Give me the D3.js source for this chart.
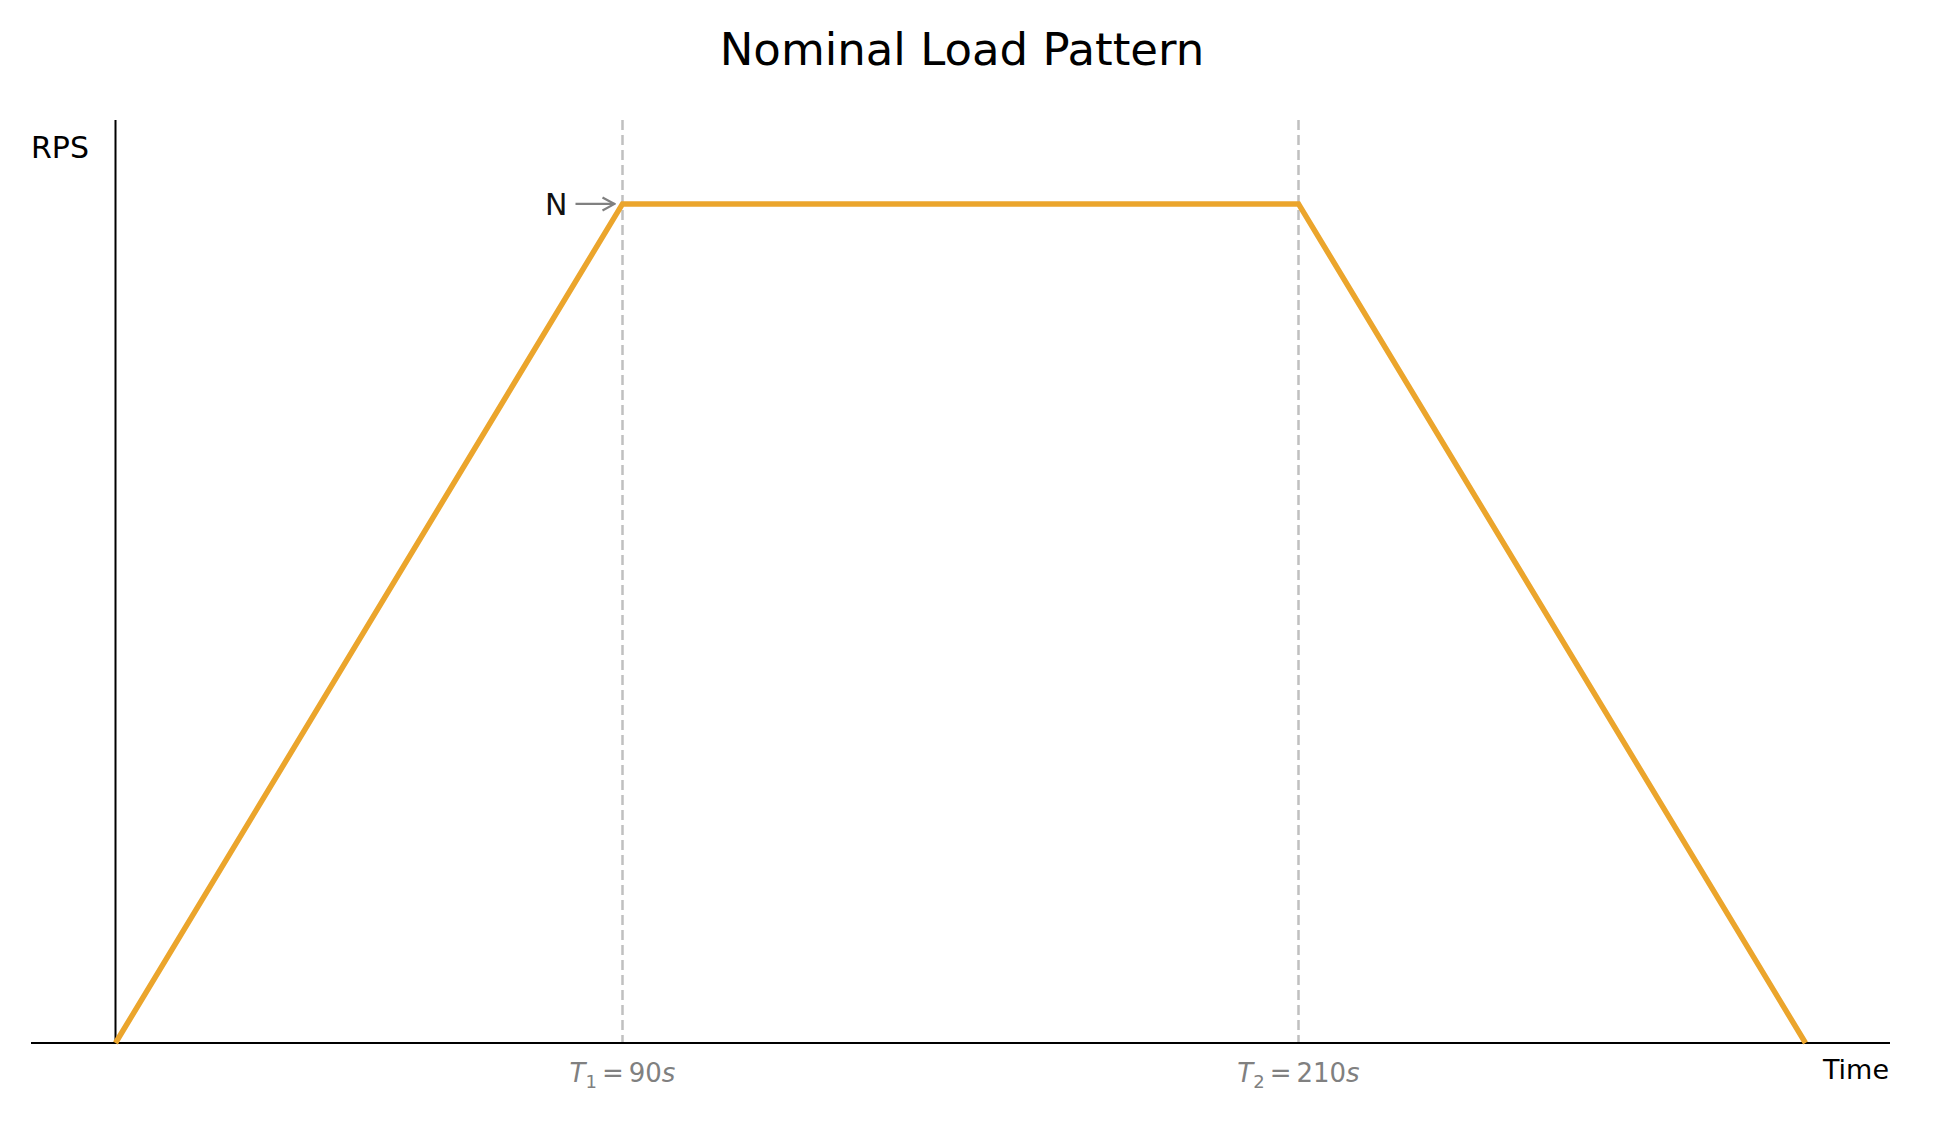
<!DOCTYPE html>
<html>
<head>
<meta charset="utf-8">
<script src="https://cdn.jsdelivr.net/npm/d3@7"></script>
<style>
  body { margin: 0; background: #fff; }
  text { font-family: "DejaVu Sans", sans-serif; }
</style>
</head>
<body>
<div id="chart"></div>
<script>
// load pattern data (time in s, load as fraction of N)
var times = [0, 90, 210, 300];
var loads = [0, 1, 1, 0];
var markTimes = [90, 210];
var markNames = ["1", "2"];
var markLabels = ["90", "210"];

var svgWidth = 1934;
var svgHeight = 1128;

var margin = { top: 120, right: 44, bottom: 85, left: 31 };
var width = svgWidth - margin.left - margin.right;
var height = svgHeight - margin.top - margin.bottom;

var svg = d3.select("#chart")
  .append("svg")
  .attr("width", svgWidth)
  .attr("height", svgHeight);

var chartGroup = svg.append("g")
  .attr("transform", `translate(${margin.left}, ${margin.top})`);

var xScale = d3.scaleLinear()
  .domain([-15, 315])
  .range([0, width]);

var yScale = d3.scaleLinear()
  .domain([0, 1.1])
  .range([height, 0]);

// dashed markers at T1 / T2
chartGroup.selectAll(".mark")
  .data(markTimes)
  .enter()
  .append("line")
  .attr("class", "mark")
  .attr("x1", d => xScale(d))
  .attr("x2", d => xScale(d))
  .attr("y1", 0)
  .attr("y2", height)
  .attr("stroke", "#c0c0c0")
  .attr("stroke-width", 2.5)
  .attr("stroke-dasharray", "10,5");

// axes: bottom spine at y=0, left spine at t=0
chartGroup.append("line")
  .attr("x1", 0)
  .attr("x2", width)
  .attr("y1", yScale(0))
  .attr("y2", yScale(0))
  .attr("stroke", "#000")
  .attr("stroke-width", 1.8);

chartGroup.append("line")
  .attr("x1", xScale(0))
  .attr("x2", xScale(0))
  .attr("y1", 0)
  .attr("y2", height)
  .attr("stroke", "#000")
  .attr("stroke-width", 2);

// load line
var line = d3.line()
  .x((d, i) => xScale(times[i]))
  .y(d => yScale(d));

chartGroup.append("path")
  .datum(loads)
  .attr("d", line)
  .attr("fill", "none")
  .attr("stroke", "#eba52c")
  .attr("stroke-width", 5.5)
  .attr("stroke-linejoin", "miter");

// marker labels T_1 = 90s etc
var labels = chartGroup.selectAll(".tlabel")
  .data(markTimes)
  .enter()
  .append("text")
  .attr("class", "tlabel")
  .attr("x", d => xScale(d))
  .attr("y", height + 39)
  .attr("text-anchor", "middle")
  .attr("font-size", "26px")
  .attr("fill", "#808080");

labels.append("tspan").attr("font-style", "italic").text("T");
labels.append("tspan").attr("font-size", "18px").attr("dy", 6).text((d, i) => markNames[i]);
labels.append("tspan").attr("dy", -6).attr("dx", 5).text("=");
labels.append("tspan").attr("dx", 5).text((d, i) => markLabels[i]);
labels.append("tspan").attr("font-style", "italic").text("s");

// N annotation with arrow
var defs = svg.append("defs");
defs.append("marker")
  .attr("id", "arrowhead")
  .attr("viewBox", "0 0 16 16")
  .attr("refX", 15)
  .attr("refY", 8)
  .attr("markerWidth", 16)
  .attr("markerHeight", 16)
  .attr("markerUnits", "userSpaceOnUse")
  .attr("orient", "auto")
  .append("path")
  .attr("d", "M3,1.5 L15,8 L3,14.5")
  .attr("fill", "none")
  .attr("stroke", "#808080")
  .attr("stroke-width", 2.2);

chartGroup.append("line")
  .attr("x1", xScale(90) - 47)
  .attr("x2", xScale(90) - 8)
  .attr("y1", yScale(1))
  .attr("y2", yScale(1))
  .attr("stroke", "#808080")
  .attr("stroke-width", 2.4)
  .attr("marker-end", "url(#arrowhead)");

chartGroup.append("text")
  .attr("x", xScale(90) - 55)
  .attr("y", yScale(1))
  .attr("dy", "0.36em")
  .attr("text-anchor", "end")
  .attr("font-size", "30px")
  .attr("fill", "#111")
  .text("N");

// axis labels
svg.append("text")
  .attr("x", 31)
  .attr("y", 158)
  .attr("font-size", "30px")
  .attr("fill", "#000")
  .text("RPS");

svg.append("text")
  .attr("x", 1889)
  .attr("y", 1079)
  .attr("text-anchor", "end")
  .attr("font-size", "27px")
  .attr("fill", "#000")
  .text("Time");

// title
svg.append("text")
  .attr("x", 962)
  .attr("y", 65)
  .attr("text-anchor", "middle")
  .attr("font-size", "45px")
  .attr("fill", "#000")
  .text("Nominal Load Pattern");
</script>
</body>
</html>
